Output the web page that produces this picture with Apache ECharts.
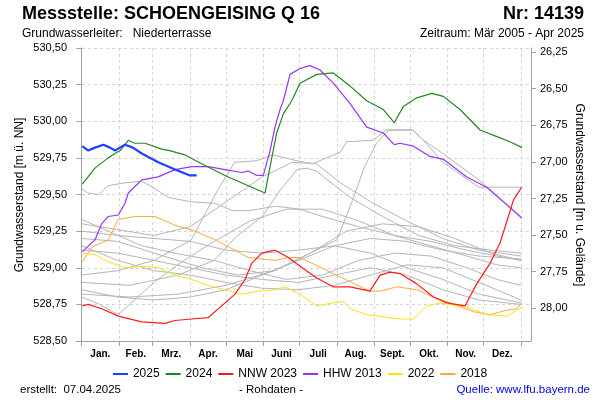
<!DOCTYPE html>
<html>
<head>
<meta charset="utf-8">
<script src="https://cdn.jsdelivr.net/npm/echarts@6/dist/echarts.min.js"></script>
<style>html,body{margin:0;padding:0;background:#fff}#c{width:600px;height:400px}</style>
</head>
<body>
<div id="c"></div>
<script>
// ---- axis definitions ----
const monthStarts = [0, 31, 59, 90, 120, 151, 181, 212, 243, 273, 304, 334, 365];
const monthMids = [15.5, 45, 74.5, 105, 135.5, 166, 196.5, 227.5, 258, 288.5, 319, 349.5];
const monthNames = ['Jan.', 'Feb.', 'Mrz.', 'Apr.', 'Mai', 'Juni', 'Juli', 'Aug.', 'Sept.', 'Okt.', 'Nov.', 'Dez.'];
const rightTicks = [26.25, 26.5, 26.75, 27.0, 27.25, 27.5, 27.75, 28.0];
const groundLevel = 556.7227;

// ---- highlighted years: [day of year, level m ü. NN] ----
const y2025 = [[0.5,529.83],[5.5,529.80],[11,529.82],[18,529.84],[23.5,529.82],[27.7,529.80],[31.8,529.82],[36,529.84],[42.6,529.82],[49.9,529.78],[63.6,529.72],[77.5,529.67],[90,529.63],[95.5,529.63]];
const y2024 = [[0.5,529.57],[11,529.68],[22,529.75],[27.7,529.78],[32,529.80],[38.7,529.87],[44,529.85],[52.6,529.85],[66.5,529.81],[73,529.80],[85.8,529.77],[99.7,529.71],[119,529.63],[138.4,529.56],[152.3,529.51],[156.5,529.69],[162,529.92],[167.5,530.05],[174.5,530.14],[181.4,530.26],[195.3,530.32],[209,530.33],[223,530.24],[236.8,530.14],[250.6,530.08],[259.7,529.99],[267.2,530.10],[278.4,530.16],[290.8,530.19],[300.5,530.17],[314.3,530.08],[331,529.94],[343.4,529.90],[355.8,529.86],[365.9,529.82]];
const nnw2023 = [[0.5,528.74],[5.5,528.75],[16.6,528.72],[30.4,528.67],[49.9,528.63],[69.2,528.62],[77.5,528.64],[91.4,528.65],[105.2,528.66],[116.3,528.74],[127.4,528.82],[135.7,528.92],[141.3,529.03],[149.6,529.10],[160.7,529.12],[171.7,529.07],[181.4,529.01],[195.3,528.93],[209,528.87],[223,528.87],[239.5,528.84],[247.9,528.95],[256.2,528.97],[264.5,528.96],[278.4,528.89],[292.2,528.80],[303.3,528.76],[318.5,528.74],[328.2,528.89],[339.3,529.03],[347.6,529.17],[354.5,529.35],[358.6,529.46],[365.6,529.55]];
const hhw2013 = [[0.5,529.11],[11,529.19],[16.6,529.30],[22,529.35],[30.4,529.36],[36,529.44],[38.7,529.51],[49.9,529.60],[63.6,529.62],[77.5,529.67],[91.4,529.69],[105.2,529.69],[119,529.67],[132.9,529.65],[138.4,529.66],[145.4,529.63],[150.9,529.63],[156.5,529.80],[160.6,529.96],[164.8,530.08],[167.5,530.14],[173.1,530.32],[181.4,530.36],[189.7,530.38],[198,530.35],[209,530.26],[223,530.12],[236.8,529.96],[250.6,529.92],[259.7,529.84],[264.5,529.85],[275.6,529.83],[289.4,529.76],[300.5,529.74],[319.9,529.62],[336.5,529.55],[358.6,529.39],[365.6,529.34]];
const y2022 = [[0.5,529.10],[11,529.09],[22,529.04],[36,529.00],[49.9,529.01],[63.6,529.00],[77.5,528.95],[91.4,528.92],[105.2,528.88],[119,528.85],[132.9,528.82],[146.7,528.84],[160.7,528.85],[169,528.87],[181.4,528.82],[195.3,528.74],[209,528.76],[217.3,528.77],[223,528.72],[236.8,528.68],[264.5,528.65],[275.6,528.65],[286.6,528.74],[297.8,528.76],[319.9,528.73],[336.5,528.68],[353.1,528.67],[365.6,528.73]];
const y2018 = [[0.5,529.04],[8.3,529.14],[22,529.19],[30.4,529.33],[44.3,529.35],[60.9,529.35],[77.5,529.29],[94.1,529.25],[110.8,529.19],[127.4,529.12],[138.4,529.07],[160.7,529.05],[171.7,529.07],[181.4,529.07],[209,528.96],[239.5,528.84],[247.9,528.84],[261.8,528.87],[278.4,528.85],[292.2,528.80],[306,528.76],[325.4,528.70],[339.3,528.68],[353.1,528.71],[361.4,528.72],[365.6,528.76]];

// ---- other years (grey) ----
const gA = [[0,528.95],[30,528.98],[60,529.05],[91,529.19],[113,529.53],[127,529.72],[145,529.73],[159,529.77],[179,529.73],[192,529.71],[215,529.79],[220,529.86],[242,529.87],[253,529.94],[275,529.94],[284,529.87],[300,529.78],[330,529.60],[365,529.35]];
const gB = [[0,529.54],[5,529.51],[14,529.50],[22,529.56],[36,529.58],[50,529.59],[61,529.54],[72,529.48],[91,529.45],[111,529.44],[125,529.39],[139,529.39],[161,529.42],[181,529.40],[200,529.35],[230,529.28],[260,529.22],[290,529.18],[320,529.12],[345,529.08],[365,529.05]];
const gC = [[0,528.90],[40,528.88],[80,528.95],[110,529.05],[128,529.21],[150,529.35],[165,529.53],[179,529.67],[187,529.68],[195,529.66],[212,529.55],[223,529.48],[250,529.35],[280,529.22],[310,529.15],[340,529.12],[365,529.10]];
const gD = [[0,529.30],[30,529.26],[60,529.22],[90,529.28],[120,529.45],[150,529.62],[175,529.72],[195,529.71],[215,529.58],[240,529.45],[270,529.32],[300,529.20],[330,529.12],[365,529.08]];
const gE = [[0,528.80],[15,528.75],[30,528.68],[40,528.75],[60,528.90],[85,529.05],[110,529.18],[140,529.32],[170,529.40],[200,529.40],[230,529.32],[260,529.22],[290,529.15],[320,529.08],[345,529.02],[365,529.00]];
const gF = [[0,528.82],[40,528.80],[80,528.82],[120,528.88],[160,528.98],[190,529.10],[212,529.19],[225,529.46],[235,529.69],[245,529.85],[255,529.94],[275,529.94],[285,529.86],[300,529.72],[330,529.55],[350,529.55],[365,529.55]];
const gH = [[0,529.20],[30,529.18],[60,529.10],[100,529.00],[130,528.95],[160,528.98],[190,529.10],[220,529.25],[250,529.30],[280,529.28],[310,529.20],[340,529.10],[365,529.05]];
const gI = [[0,529.25],[30,529.22],[60,529.20],[90,529.18],[120,529.12],[150,529.10],[180,529.12],[210,529.15],[240,529.10],[270,529.00],[300,528.92],[330,528.82],[365,528.76]];
const gJ = [[0,529.15],[30,529.05],[60,528.98],[90,528.95],[120,528.90],[150,528.86],[180,528.85],[210,528.88],[240,528.95],[270,529.02],[300,529.00],[330,528.90],[365,528.78]];
const gK = [[0,528.85],[30,528.80],[60,528.78],[90,528.80],[120,528.85],[150,528.95],[180,529.05],[210,529.15],[240,529.20],[270,529.18],[300,529.12],[330,529.08],[365,529.06]];
const gL = [[0,529.12],[30,529.10],[60,529.05],[90,529.00],[120,528.95],[150,528.92],[180,528.90],[210,528.95],[240,529.00],[270,528.95],[300,528.85],[330,528.78],[365,528.75]];
const gM = [[0,529.33],[22,529.25],[50,529.15],[77,529.10],[110,529.05],[140,528.98],[170,528.92],[200,528.95],[230,529.05],[260,529.10],[290,529.08],[320,529.00],[345,528.92],[365,528.88]];
const greyYears = [gA, gB, gC, gD, gE, gF, gH, gI, gJ, gK, gL, gM];

const FONT = '"Liberation Sans", Arial, sans-serif';
const comma = v => v.toFixed(2).replace('.', ',');

const series = [];
greyYears.forEach(d => series.push({
  type: 'line', data: d, symbol: 'none', silent: true, z: 1,
  lineStyle: { color: '#b5b5b5', width: 1 }
}));
const hl = [
  ['2018', y2018, '#ffa640', 1],
  ['2022', y2022, '#ffe010', 1],
  ['HHW 2013', hhw2013, '#9933ff', 1.2],
  ['NNW 2023', nnw2023, '#ff1a1a', 1.2],
  ['2024', y2024, '#228822', 1.2],
  ['2025', y2025, '#2040ff', 2.2]
];
hl.forEach(([name, d, col, w]) => series.push({
  name: name, type: 'line', data: d, symbol: 'none', z: 3,
  itemStyle: { color: col }, lineStyle: { color: col, width: w }
}));

const gridLine = { show: true, lineStyle: { color: '#d4d4d4', type: [3, 3], width: 1 } };
const axLine = { show: true, lineStyle: { color: '#a0a0a0', width: 1 } };

const chart = echarts.init(document.getElementById('c'), null, { renderer: 'canvas' });
chart.setOption({
  animation: false,
  backgroundColor: '#fff',
  textStyle: { fontFamily: FONT },
  grid: { left: 76, right: 69, top: 48, bottom: 59, containLabel: false },
  xAxis: {
    type: 'value', min: -4.74, max: 373.3,
    axisLine: axLine,
    axisTick: { show: true, length: 5, lineStyle: { color: '#a0a0a0' }, customValues: monthStarts },
    axisLabel: {
      customValues: monthMids, margin: 8, color: '#000', fontSize: 10, fontWeight: 'bold', fontFamily: FONT,
      formatter: v => {
        let best = 0;
        monthMids.forEach((m, i) => { if (Math.abs(m - v) < Math.abs(monthMids[best] - v)) best = i; });
        return monthNames[best];
      }
    },
    splitLine: gridLine
  },
  yAxis: [
    {
      type: 'value', position: 'left', min: 528.5, max: 530.5, interval: 0.25,
      axisLine: axLine,
      axisTick: { show: true, length: 5, lineStyle: { color: '#a0a0a0' } },
      axisLabel: { formatter: comma, color: '#000', fontSize: 11, margin: 9, fontFamily: FONT },
      splitLine: gridLine
    },
    {
      type: 'value', position: 'right', inverse: true,
      min: groundLevel - 530.5, max: groundLevel - 528.5,
      axisLine: axLine,
      axisTick: { show: true, length: 5, lineStyle: { color: '#a0a0a0' }, customValues: rightTicks },
      axisLabel: { customValues: rightTicks, formatter: comma, color: '#000', fontSize: 11, margin: 9, fontFamily: FONT },
      splitLine: { show: false }
    }
  ],
  legend: {
    data: ['2025', '2024', 'NNW 2023', 'HHW 2013', '2022', '2018'],
    top: 363, left: 'center', icon: 'rect', itemWidth: 15, itemHeight: 2, itemGap: 6,
    textStyle: { fontSize: 12, color: '#000', fontFamily: FONT }
  },
  graphic: [
    { type: 'text', x: 22, y: 14, style: { text: 'Messstelle: SCHOENGEISING Q 16', font: 'bold 18px ' + FONT, fill: '#000', textVerticalAlign: 'middle' } },
    { type: 'text', x: 584, y: 14, style: { text: 'Nr: 14139', font: 'bold 18px ' + FONT, fill: '#000', textAlign: 'right', textVerticalAlign: 'middle' } },
    { type: 'text', x: 22, y: 34, style: { text: 'Grundwasserleiter:   Niederterrasse', font: '12px ' + FONT, fill: '#000', textVerticalAlign: 'middle' } },
    { type: 'text', x: 584, y: 34, style: { text: 'Zeitraum: Mär 2005 - Apr 2025', font: '12px ' + FONT, fill: '#000', textAlign: 'right', textVerticalAlign: 'middle' } },
    { type: 'text', x: 20, y: 195, rotation: Math.PI / 2, style: { text: 'Grundwasserstand [m ü. NN]', font: '12px ' + FONT, fill: '#000', textAlign: 'center', textVerticalAlign: 'middle' } },
    { type: 'text', x: 579, y: 195, rotation: -Math.PI / 2, style: { text: 'Grundwasserstand [m u. Gelände]', font: '12px ' + FONT, fill: '#000', textAlign: 'center', textVerticalAlign: 'middle' } },
    { type: 'text', x: 20, y: 390, style: { text: 'erstellt:  07.04.2025', font: '11.5px ' + FONT, fill: '#000', textVerticalAlign: 'middle' } },
    { type: 'text', x: 271, y: 390, style: { text: '- Rohdaten -', font: '11.5px ' + FONT, fill: '#000', textAlign: 'center', textVerticalAlign: 'middle' } },
    { type: 'text', x: 590, y: 390, style: { text: 'Quelle: www.lfu.bayern.de', font: '11.5px ' + FONT, fill: '#0000ee', textAlign: 'right', textVerticalAlign: 'middle' } }
  ],
  series: series
});
</script>
</body>
</html>
